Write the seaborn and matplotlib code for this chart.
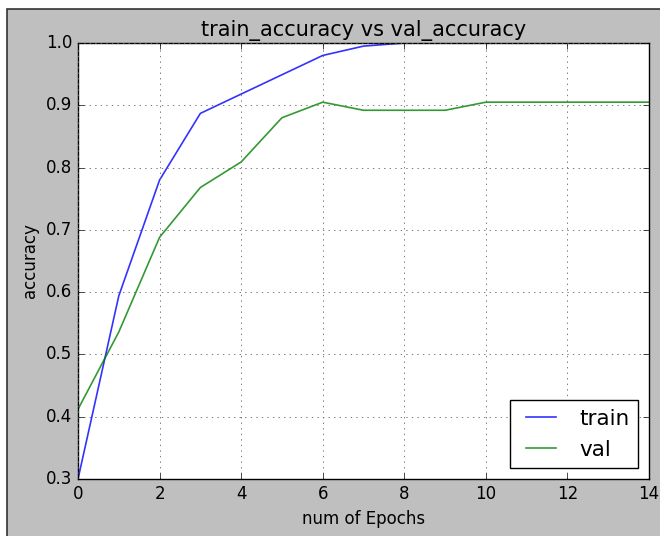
# Accuracy curves: train vs val per epoch
import numpy as np
import pandas as pd
import matplotlib
matplotlib.use("Agg")
import matplotlib.pyplot as plt
from matplotlib.patches import Rectangle
import seaborn as sns

# values
epochs = list(range(15))
train_acc = [0.30, 0.594, 0.780, 0.887, 0.918, 0.949, 0.980, 0.995, 1.0,
             1.0, 1.0, 1.0, 1.0, 1.0, 1.0]
val_acc = [0.412, 0.536, 0.688, 0.768, 0.809, 0.880, 0.905, 0.892, 0.892,
           0.892, 0.905, 0.905, 0.905, 0.905, 0.905]
series_names = ["train", "val"]
x_ticks = [0, 2, 4, 6, 8, 10, 12, 14]
y_ticks = [0.3, 0.4, 0.5, 0.6, 0.7, 0.8, 0.9, 1.0]

df = pd.DataFrame({
    "epoch": epochs * 2,
    "accuracy": train_acc + val_acc,
    "series": [series_names[0]] * len(epochs) + [series_names[1]] * len(epochs),
})

plt.style.use("classic")
fig = plt.figure(figsize=(6.6, 5.36), dpi=100)
fig.patch.set_facecolor("white")
# screenshot-like frame: white strip on top/left, gray figure area
fig.add_artist(Rectangle((7 / 660, -0.01), 1.0, 1 - 9 / 536 + 0.01,
                         transform=fig.transFigure, facecolor="#bfbfbf",
                         edgecolor="#333333", linewidth=1.2, zorder=-5))
ax = fig.add_axes([78 / 660, 1 - 479 / 536, (649 - 78) / 660, (479 - 43) / 536])

sns.lineplot(data=df, x="epoch", y="accuracy", hue="series",
             palette={"train": "b", "val": "g"}, ax=ax, linewidth=1.2,
             alpha=0.8, legend=False)

ax.set_xlim(0, 14)
ax.set_ylim(0.3, 1.0)
ax.set_xticks(x_ticks)
ax.set_yticks(y_ticks)
ax.grid(True, color="0.4", linestyle=":", linewidth=0.6)
ax.set_title("train_accuracy vs val_accuracy", fontsize=15)
ax.set_xlabel("num of Epochs")
ax.set_ylabel("accuracy")
ax.legend(ax.get_lines()[:2], series_names, loc="lower right", fontsize=15.5)

fig.savefig("out.png", dpi=100, facecolor=fig.get_facecolor())
